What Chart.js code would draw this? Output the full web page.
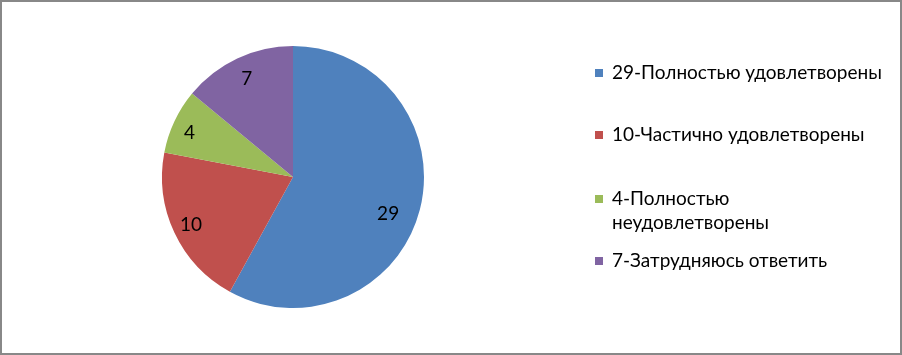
<!DOCTYPE html>
<html><head><meta charset="utf-8">
<script src="https://cdn.jsdelivr.net/npm/chart.js@4/dist/chart.umd.min.js"></script>
<style>
html,body{margin:0;padding:0;background:#fff;}
#wrap{position:relative;width:902px;height:355px;overflow:hidden;}
#c{position:absolute;left:0;top:0;}
#frame{position:absolute;left:0;top:0;width:902px;height:355px;box-sizing:border-box;border:2px solid #888;pointer-events:none;}
#legend{position:absolute;left:595px;top:0;font-family:Lato,"Open Sans",sans-serif;font-size:19px;color:#000;}
.item{position:absolute;left:0;white-space:nowrap;}
.sw{position:absolute;left:0;width:8px;height:8px;}
.tx{position:absolute;left:17px;line-height:24px;}
</style></head>
<body>
<div id="wrap">
<canvas id="c" width="902" height="355"></canvas>
<div id="legend"></div>
<div id="frame"></div>
</div>
<script>
const categories = ["29-Полностью удовлетворены","10-Частично удовлетворены","4-Полностью неудовлетворены","7-Затрудняюсь ответить"];
const legendLines = [["29-Полностью удовлетворены"],["10-Частично удовлетворены"],["4-Полностью","неудовлетворены"],["7-Затрудняюсь ответить"]];
const values = [29,10,4,7];
const colors = ["#4F81BD","#C0504D","#9BBB59","#8064A2"];

// legend (HTML text)
const legendTops = [69,131,195,257];
const lg = document.getElementById('legend');
legendLines.forEach((lines,i)=>{
  const it = document.createElement('div'); it.className='item'; it.style.top=legendTops[i]+'px';
  const sw = document.createElement('div'); sw.className='sw'; sw.style.background=colors[i]; sw.style.top='0px';
  const tx = document.createElement('div'); tx.className='tx'; tx.style.top='-9px';
  tx.innerHTML = lines.join('<br>');
  it.appendChild(sw); it.appendChild(tx); lg.appendChild(it);
});

// label placement (best-fit style): radial fraction and angle shift (degrees) per slice
const labelPlacement = {radius:[0.78,0.86,0.86,0.83], shift:[7,0,-2,0]};

const labelPlugin = {
  id:'sliceLabels',
  afterDatasetsDraw(chart){
    const ctx = chart.ctx;
    const meta = chart.getDatasetMeta(0);
    ctx.save();
    ctx.font = '19px Lato, "Open Sans", sans-serif';
    ctx.fillStyle = '#000';
    ctx.textAlign='center'; ctx.textBaseline='middle';
    meta.data.forEach((arc,i)=>{
      const p = arc.getProps(['x','y','startAngle','endAngle','outerRadius'],true);
      const mid = (p.startAngle+p.endAngle)/2 + labelPlacement.shift[i]*Math.PI/180;
      const r = p.outerRadius*labelPlacement.radius[i];
      ctx.fillText(String(values[i]), p.x+Math.cos(mid)*r, p.y+Math.sin(mid)*r);
    });
    ctx.restore();
  }
};

new Chart(document.getElementById('c'),{
  type:'pie',
  data:{labels:categories,datasets:[{data:values,backgroundColor:colors,borderWidth:0}]},
  options:{
    responsive:false,animation:false,
    layout:{padding:{left:162,right:478,top:46,bottom:47}},
    plugins:{legend:{display:false},tooltip:{enabled:false}}
  },
  plugins:[labelPlugin]
});
</script>
</body></html>
